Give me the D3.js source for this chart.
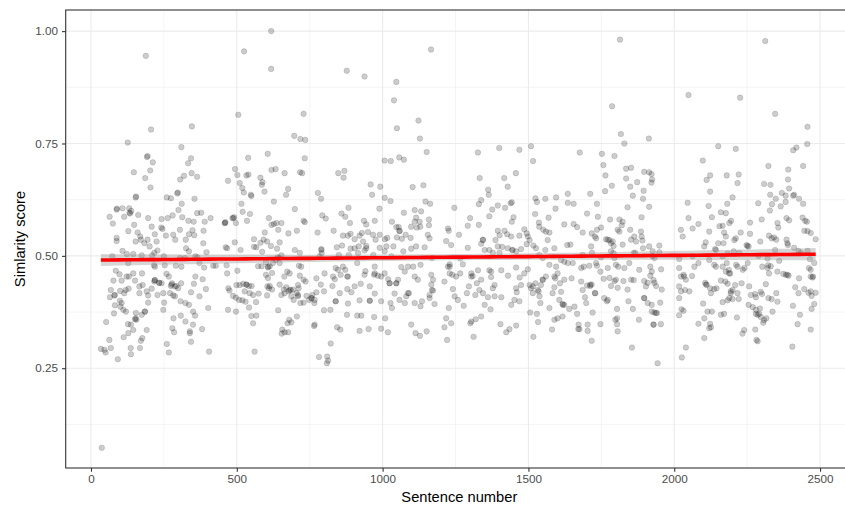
<!DOCTYPE html>
<html>
<head>
<meta charset="utf-8">
<script src="https://cdn.jsdelivr.net/npm/d3@7"></script>
<style>
  body { margin: 0; background: #fff; }
  svg { display: block; font-family: "Liberation Sans", Arial, sans-serif; }
</style>
</head>
<body>
<svg width="845" height="508"></svg>
<script>
// axis ticks
var xTicks = [0, 500, 1000, 1500, 2000, 2500];
var xMinor = [250, 750, 1250, 1750, 2250];
var yTicks = [0.25, 0.50, 0.75, 1.00];
var yMinor = [0.125, 0.375, 0.625, 0.875];

// [sentence number, similarity score], in blocks
var pts0 = [[188,.945],[206,.781],[126,.752],[192,.72],[194,.722],[212,.708],[147,.686],[203,.690],[186,.673],[204,.652],[310,.742],[333,.706],[319,.678],[306,.670],[153,.630],[155,.632],[260,.630],[274,.628],[296,.639],[298,.641],[311,.616],[88,.603],[89,.605],[108,.606],[131,.606],[138,.600],[64,.587],[75,.572],[114,.587],[132,.596],[134,.594],[148,.569],[160,.552],[162,.591],[196,.584],[208,.565],[242,.582],[263,.584],[280,.590],[300,.602],[313,.586],[334,.578],[241,.563],[245,.560],[257,.545],[282,.547],[289,.536],[305,.558],[88,.540],[88,.533],[128,.555],[153,.532],[169,.543],[183,.528],[171,.536],[194,.536],[201,.521],[219,.548],[225,.532],[228,.512],[210,.501],[217,.507],[108,.511],[123,.504],[145,.504],[73,.499],[174,.501],[325,.536],[336,.548],[326,.517],[336,.510],[322,.495],[305,.495],[310,.476],[291,.478],[128,.484],[85,.467],[98,.459],[105,.445],[122,.454],[130,.454],[145,.461],[151,.445],[77,.445],[68,.424],[65,.408],[80,.412],[100,.422],[114,.417],[119,.424],[129,.427],[175,.461],[166,.432],[177,.435],[166,.417],[191,.421],[196,.412],[208,.427],[216,.479],[219,.476],[253,.479],[250,.499],[217,.443],[219,.446],[234,.440],[242,.439],[259,.460],[267,.454],[274,.433],[278,.439],[288,.432],[293,.433],[299,.428],[309,.439],[271,.417],[282,.412],[288,.410],[228,.413],[248,.417],[307,.399],[324,.395],[336,.391],[99,.400],[82,.390],[101,.387],[111,.380],[120,.376],[79,.372],[52,.353],[196,.396],[185,.376],[174,.369],[153,.361],[156,.358],[151,.359],[137,.347],[145,.335],[127,.348],[128,.328],[191,.335],[176,.317],[171,.311],[248,.380],[251,.396],[283,.361],[279,.339],[285,.330],[308,.367],[324,.354],[339,.332],[260,.304],[267,.285],[63,.313],[68,.295],[112,.319],[136,.295],[137,.281],[168,.295],[34,.293],[46,.291],[50,.285],[92,.270],[37,.073]];

var pts1 = [[618,1.000],[525,.955],[618,.916],[505,.814],[729,.816],[697,.767],[718,.760],[735,.758],[346,.788],[343,.717],[345,.684],[364,.676],[355,.627],[606,.727],[539,.718],[494,.693],[502,.680],[510,.662],[519,.651],[524,.641],[533,.679],[540,.681],[548,.636],[550,.633],[470,.667],[581,.674],[588,.664],[586,.658],[595,.643],[619,.691],[633,.693],[664,.684],[676,.649],[669,.636],[717,.686],[724,.684],[627,.621],[699,.604],[516,.616],[520,.598],[545,.593],[535,.578],[459,.573],[461,.575],[485,.584],[491,.586],[497,.573],[364,.595],[378,.596],[390,.576],[410,.584],[386,.556],[352,.576],[348,.557],[354,.546],[610,.584],[619,.569],[627,.571],[636,.573],[653,.573],[642,.558],[596,.552],[592,.536],[677,.550],[706,.556],[729,.578],[733,.575],[699,.513],[716,.507],[493,.530],[462,.519],[467,.517],[513,.513],[559,.537],[567,.519],[559,.520],[581,.529],[587,.509],[604,.532],[617,.522],[638,.516],[647,.530],[653,.501],[640,.497],[385,.528],[396,.508],[358,.499],[365,.497],[372,.484],[388,.474],[419,.478],[428,.478],[465,.479],[467,.461],[502,.467],[573,.477],[585,.477],[600,.486],[607,.474],[613,.477],[600,.458],[607,.451],[621,.462],[624,.484],[633,.491],[647,.484],[645,.495],[673,.465],[681,.461],[663,.454],[713,.478],[721,.476],[716,.456],[729,.447],[736,.443],[383,.448],[358,.454],[353,.438],[343,.419],[372,.410],[394,.426],[471,.428],[475,.423],[499,.435],[510,.435],[522,.438],[533,.436],[527,.421],[542,.433],[551,.433],[544,.417],[556,.413],[487,.411],[497,.407],[508,.402],[519,.401],[530,.398],[575,.416],[566,.397],[605,.432],[610,.428],[613,.433],[604,.412],[621,.425],[647,.436],[653,.413],[661,.425],[670,.430],[678,.421],[685,.424],[687,.410],[693,.425],[695,.402],[705,.417],[710,.410],[718,.395],[729,.396],[739,.411],[748,.402],[756,.406],[759,.413],[766,.395],[710,.435],[712,.428],[542,.385],[550,.366],[556,.350],[567,.367],[470,.380],[497,.376],[402,.384],[350,.376],[357,.367],[350,.347],[339,.328],[381,.337],[343,.309],[405,.287],[561,.287],[642,.379],[680,.358],[674,.350],[687,.352],[706,.365],[765,.344],[656,.336],[664,.330],[676,.330],[654,.327]];

var pts2 = [[877,.912],[938,.899],[1047,.887],[1166,.959],[1039,.846],[1049,.784],[1123,.801],[1128,.761],[1151,.731],[733,.717],[1007,.712],[1028,.711],[1057,.719],[1073,.714],[848,.684],[869,.689],[866,.674],[778,.640],[789,.627],[959,.659],[964,.636],[992,.654],[1007,.629],[1027,.622],[1103,.653],[1140,.657],[1147,.621],[1163,.616],[883,.607],[793,.590],[805,.583],[859,.594],[872,.587],[888,.573],[989,.605],[973,.578],[936,.578],[944,.570],[1073,.596],[1032,.576],[1047,.564],[1058,.556],[1055,.564],[1110,.602],[1132,.599],[1115,.585],[1098,.565],[1110,.576],[1127,.576],[1129,.565],[1117,.563],[1159,.581],[1159,.568],[1155,.547],[1161,.539],[777,.552],[832,.556],[864,.545],[881,.545],[890,.549],[921,.545],[929,.551],[950,.553],[967,.547],[976,.536],[990,.547],[1008,.537],[1016,.540],[990,.518],[1013,.521],[1037,.521],[1049,.541],[1058,.555],[1066,.538],[1079,.547],[1096,.540],[904,.537],[933,.532],[944,.517],[938,.512],[944,.522],[843,.519],[861,.523],[890,.516],[904,.517],[918,.521],[790,.515],[791,.506],[784,.499],[850,.502],[884,.502],[916,.506],[968,.502],[1007,.510],[1030,.499],[1071,.510],[1098,.516],[1115,.521],[1144,.519],[1169,.495],[839,.473],[847,.469],[864,.476],[872,.469],[879,.454],[856,.458],[830,.454],[836,.448],[801,.461],[913,.484],[938,.458],[941,.466],[973,.476],[971,.458],[984,.456],[995,.454],[1007,.461],[1019,.448],[1024,.439],[1047,.439],[1053,.447],[1064,.475],[1076,.465],[1087,.476],[1105,.476],[1110,.454],[1121,.447],[1130,.480],[1167,.458],[1173,.447],[1167,.436],[1173,.423],[1161,.413],[773,.450],[788,.436],[773,.419],[767,.402],[799,.421],[828,.433],[853,.417],[879,.426],[893,.419],[904,.432],[925,.438],[956,.432],[973,.416],[839,.399],[881,.394],[921,.401],[956,.400],[995,.399],[1027,.395],[1041,.416],[1058,.402],[1081,.410],[1090,.417],[1076,.395],[1110,.395],[1135,.399],[1130,.388],[1161,.406],[799,.379],[821,.380],[878,.369],[913,.367],[927,.367],[971,.364],[1009,.361],[1032,.384],[1098,.347],[1178,.393],[844,.341],[855,.336],[921,.333],[952,.337],[995,.338],[1018,.330],[1113,.328],[1128,.322],[1151,.332],[822,.305],[782,.275],[810,.276],[809,.261],[813,.267],[767,.347]];

var pts3 = [[1327,.730],[1400,.740],[1469,.736],[1509,.744],[1516,.711],[1333,.673],[1457,.684],[1417,.673],[1429,.654],[1362,.647],[1364,.636],[1338,.624],[1330,.615],[1246,.607],[1376,.603],[1395,.612],[1420,.607],[1439,.617],[1443,.619],[1524,.628],[1529,.620],[1558,.627],[1595,.630],[1523,.593],[1536,.574],[1569,.585],[1593,.605],[1224,.561],[1227,.556],[1218,.533],[1235,.524],[1262,.547],[1292,.567],[1300,.584],[1330,.569],[1366,.588],[1449,.586],[1443,.576],[1395,.556],[1418,.556],[1401,.546],[1427,.548],[1441,.543],[1387,.535],[1469,.545],[1486,.559],[1494,.550],[1504,.535],[1344,.535],[1338,.527],[1350,.513],[1366,.513],[1378,.507],[1395,.521],[1401,.507],[1410,.520],[1429,.517],[1444,.513],[1458,.510],[1475,.515],[1494,.526],[1517,.523],[1526,.517],[1537,.502],[1549,.495],[1558,.513],[1572,.552],[1566,.535],[1589,.517],[1537,.565],[1551,.558],[1560,.554],[1292,.518],[1266,.494],[1275,.481],[1230,.481],[1224,.476],[1230,.461],[1239,.458],[1252,.454],[1266,.461],[1212,.443],[1241,.426],[1247,.410],[1258,.402],[1278,.389],[1227,.384],[1304,.461],[1309,.455],[1327,.468],[1338,.447],[1323,.439],[1296,.432],[1332,.424],[1344,.417],[1318,.413],[1289,.417],[1378,.428],[1384,.435],[1366,.468],[1372,.453],[1361,.408],[1384,.410],[1407,.408],[1350,.391],[1338,.365],[1319,.359],[1301,.350],[1304,.354],[1370,.381],[1218,.361],[1235,.350],[1212,.341],[1221,.313],[1312,.320],[1404,.348],[1424,.330],[1435,.337],[1458,.345],[1407,.468],[1430,.456],[1458,.474],[1470,.452],[1458,.428],[1460,.419],[1469,.399],[1441,.391],[1452,.402],[1475,.435],[1486,.461],[1498,.470],[1504,.435],[1509,.428],[1515,.417],[1524,.439],[1535,.421],[1543,.435],[1549,.447],[1560,.454],[1538,.410],[1541,.395],[1506,.374],[1529,.371],[1533,.353],[1517,.320],[1572,.384],[1589,.358],[1600,.361],[1617,.365],[1581,.336],[1592,.450],[1600,.461],[1608,.439],[1606,.402],[1617,.393],[1612,.420],[1589,.430],[1583,.417],[1572,.480],[1595,.476],[1612,.491]];

var pts4 = [[1814,.981],[1787,.833],[2049,.858],[1817,.771],[1829,.750],[1913,.761],[1676,.730],[1752,.727],[1795,.722],[1757,.702],[1764,.679],[1835,.694],[1852,.696],[1897,.687],[1914,.686],[1922,.682],[1924,.670],[1922,.663],[1835,.672],[1873,.664],[1849,.654],[1858,.634],[1895,.645],[1893,.627],[1763,.644],[1786,.656],[1635,.638],[1635,.618],[1655,.616],[1712,.638],[1735,.616],[1840,.608],[1914,.609],[1888,.586],[1701,.594],[1738,.587],[1780,.581],[1812,.581],[1823,.576],[1820,.568],[1623,.570],[1655,.571],[1667,.564],[1686,.552],[1644,.525],[1633,.524],[1717,.550],[1732,.539],[1749,.563],[1735,.558],[1728,.543],[1766,.537],[1778,.535],[1789,.532],[1792,.522],[1806,.558],[1812,.554],[1823,.525],[1849,.558],[1852,.536],[1863,.543],[1869,.532],[1886,.554],[1888,.543],[1891,.534],[1893,.517],[1914,.521],[1926,.510],[1949,.523],[1949,.508],[1715,.521],[1718,.507],[1686,.502],[1749,.497],[1783,.510],[1792,.506],[1795,.495],[1861,.506],[1866,.507],[1926,.499],[1932,.495],[1623,.487],[1635,.484],[1652,.484],[1681,.473],[1690,.476],[1709,.478],[1732,.484],[1735,.478],[1747,.465],[1772,.473],[1800,.480],[1808,.476],[1829,.473],[1846,.484],[1880,.469],[1918,.476],[1923,.465],[1955,.470],[1623,.447],[1648,.450],[1681,.443],[1686,.424],[1701,.434],[1712,.433],[1717,.436],[1729,.417],[1758,.449],[1778,.451],[1783,.433],[1795,.444],[1800,.447],[1806,.429],[1826,.444],[1840,.425],[1852,.447],[1861,.446],[1897,.444],[1903,.432],[1909,.440],[1918,.456],[1929,.446],[1932,.440],[1938,.433],[1957,.425],[1623,.391],[1640,.382],[1658,.387],[1667,.371],[1694,.408],[1698,.395],[1720,.374],[1728,.417],[1760,.406],[1769,.399],[1804,.382],[1843,.399],[1858,.382],[1879,.358],[1897,.406],[1909,.395],[1923,.391],[1923,.376],[1932,.374],[1941,.373],[1952,.396],[1672,.347],[1671,.337],[1703,.347],[1703,.333],[1747,.348],[1798,.358],[1804,.348],[1806,.332],[1929,.347],[1954,.348],[1717,.311],[1855,.296],[1943,.261],[2023,.558],[2029,.543],[2046,.618],[2049,.584],[2017,.473],[2023,.454],[2032,.458],[2040,.447],[2017,.432],[2017,.406],[2023,.421],[2037,.424],[2052,.421],[2025,.381],[2032,.378],[2017,.368],[2040,.296],[2026,.274],[2017,.493]];

var pts5 = [[2312,.978],[2226,.852],[2346,.816],[2457,.787],[2456,.749],[2408,.735],[2419,.741],[2151,.744],[2211,.738],[2098,.712],[2323,.700],[2442,.700],[2391,.692],[2390,.670],[2394,.650],[2111,.669],[2123,.679],[2180,.679],[2221,.681],[2217,.662],[2308,.660],[2330,.658],[2329,.636],[2335,.615],[2328,.601],[2123,.643],[2200,.630],[2182,.616],[2160,.597],[2177,.595],[2348,.627],[2369,.640],[2382,.634],[2408,.634],[2428,.627],[2442,.616],[2382,.620],[2365,.610],[2411,.636],[2118,.611],[2129,.586],[2083,.571],[2063,.561],[2155,.566],[2166,.567],[2171,.552],[2177,.543],[2195,.578],[2189,.573],[2169,.528],[2151,.528],[2143,.513],[2120,.554],[2260,.574],[2300,.581],[2288,.617],[2260,.549],[2251,.522],[2228,.552],[2206,.535],[2211,.539],[2295,.532],[2354,.573],[2357,.563],[2385,.584],[2394,.579],[2440,.585],[2449,.578],[2455,.576],[2446,.556],[2457,.555],[2468,.551],[2485,.537],[2325,.545],[2334,.539],[2342,.541],[2350,.536],[2346,.513],[2385,.536],[2388,.528],[2390,.524],[2411,.518],[2426,.511],[2434,.507],[2457,.511],[2465,.493],[2103,.521],[2108,.530],[2140,.515],[2166,.499],[2183,.505],[2204,.510],[2223,.506],[2248,.524],[2255,.521],[2289,.500],[2302,.476],[2322,.479],[2331,.477],[2360,.489],[2320,.494],[2063,.499],[2069,.476],[2083,.484],[2120,.491],[2137,.480],[2143,.476],[2166,.476],[2180,.484],[2187,.469],[2192,.461],[2212,.480],[2217,.476],[2235,.469],[2241,.473],[2252,.484],[2354,.465],[2374,.460],[2383,.458],[2392,.456],[2428,.450],[2462,.473],[2468,.469],[2476,.454],[2480,.484],[2474,.452],[2061,.455],[2106,.440],[2111,.436],[2123,.428],[2126,.417],[2137,.426],[2145,.428],[2160,.445],[2175,.443],[2183,.438],[2194,.421],[2200,.424],[2209,.435],[2217,.417],[2189,.406],[2183,.401],[2166,.397],[2200,.404],[2221,.404],[2231,.439],[2257,.432],[2263,.413],[2278,.415],[2280,.408],[2297,.420],[2301,.415],[2314,.437],[2323,.406],[2334,.404],[2350,.417],[2354,.398],[2415,.430],[2426,.417],[2446,.426],[2460,.418],[2471,.411],[2485,.418],[2099,.394],[2114,.376],[2129,.376],[2160,.369],[2171,.371],[2215,.363],[2255,.391],[2269,.386],[2280,.371],[2286,.369],[2294,.383],[2297,.364],[2308,.357],[2305,.351],[2337,.376],[2316,.361],[2407,.389],[2431,.369],[2471,.382],[2480,.393],[2083,.349],[2103,.361],[2123,.349],[2126,.341],[2120,.339],[2234,.327],[2240,.335],[2278,.336],[2286,.310],[2282,.313],[2423,.348],[2468,.336],[2405,.298],[2103,.317]];

// extra points hidden in the darker overlapping clusters
var ptsDense = [[2177,.465],[2188,.461],[2320,.473],[2325,.461],[2280,.380],[2291,.371],[2388,.458],[2468,.454],[2194,.417],[2109,.436],[2468,.421],[1712,.436],[1772,.536],[1783,.528],[1804,.361],[1675,.337],[1897,.406],[1929,.347],[1937,.373],[2034,.454],[1772,.402],[1344,.536],[1498,.543],[1446,.513],[1372,.465],[1515,.432],[1532,.424],[1549,.447],[1589,.454],[1618,.391],[1304,.454],[1230,.476],[790,.513],[973,.461],[1024,.439],[1087,.417],[1169,.424],[839,.399],[956,.400],[881,.454],[1047,.439],[459,.573],[488,.584],[607,.476],[533,.436],[681,.424],[756,.406],[710,.413],[664,.417],[105,.395],[154,.373],[234,.440],[276,.436],[219,.446],[82,.413],[185,.376]];

var points = pts0.concat(pts1, pts2, pts3, pts4, pts5, ptsDense);

var svg = d3.select("svg"),
  width = +svg.attr("width"),
  height = +svg.attr("height");

// panel box (right side runs off the picture, like the original)
var pLeft = 65.7, pRight = 853, pTop = 10, pBottom = 468;

var x = d3.scaleLinear().domain([-86.7, 2613]).range([pLeft, pRight]);
var y = d3.scaleLinear().domain([0.028, 1.047]).range([pBottom, pTop]);

svg.append("clipPath").attr("id", "panel")
  .append("rect")
  .attr("x", pLeft).attr("y", pTop)
  .attr("width", pRight - pLeft).attr("height", pBottom - pTop);

var grid = svg.append("g");

// minor grid
grid.selectAll(".xminor").data(xMinor).enter().append("line")
  .attr("x1", d => x(d)).attr("x2", d => x(d))
  .attr("y1", pTop).attr("y2", pBottom)
  .attr("stroke", "#ebebeb").attr("stroke-width", 0.55);
grid.selectAll(".yminor").data(yMinor).enter().append("line")
  .attr("x1", pLeft).attr("x2", pRight)
  .attr("y1", d => y(d)).attr("y2", d => y(d))
  .attr("stroke", "#ebebeb").attr("stroke-width", 0.55);

// major grid
grid.selectAll(".xmajor").data(xTicks).enter().append("line")
  .attr("x1", d => x(d)).attr("x2", d => x(d))
  .attr("y1", pTop).attr("y2", pBottom)
  .attr("stroke", "#ebebeb").attr("stroke-width", 1.1);
grid.selectAll(".ymajor").data(yTicks).enter().append("line")
  .attr("x1", pLeft).attr("x2", pRight)
  .attr("y1", d => y(d)).attr("y2", d => y(d))
  .attr("stroke", "#ebebeb").attr("stroke-width", 1.1);

var plot = svg.append("g").attr("clip-path", "url(#panel)");

// the points
plot.selectAll("circle").data(points).enter().append("circle")
  .attr("cx", d => x(d[0]))
  .attr("cy", d => y(d[1]))
  .attr("r", 2.8)
  .attr("fill", "#000").attr("fill-opacity", 0.2)
  .attr("stroke", "#000").attr("stroke-opacity", 0.2).attr("stroke-width", 0.6);

// linear fit with 95% band, like geom_smooth(method = "lm")
var n = points.length;
var mx = d3.mean(points, d => d[0]), my = d3.mean(points, d => d[1]);
var sxx = d3.sum(points, d => (d[0] - mx) * (d[0] - mx));
var sxy = d3.sum(points, d => (d[0] - mx) * (d[1] - my));
var slope = sxy / sxx, icpt = my - slope * mx;
var rss = d3.sum(points, d => Math.pow(d[1] - (icpt + slope * d[0]), 2));
var s = Math.sqrt(rss / (n - 2));
var tq = 1.962;

var xmin = d3.min(points, d => d[0]), xmax = d3.max(points, d => d[0]);
var fit = d3.range(80).map(function (i) {
  var xv = xmin + (xmax - xmin) * i / 79;
  var yv = icpt + slope * xv;
  var se = s * Math.sqrt(1 / n + (xv - mx) * (xv - mx) / sxx);
  return { x: xv, y: yv, lo: yv - tq * se, hi: yv + tq * se };
});

plot.append("path").datum(fit)
  .attr("fill", "#999999").attr("fill-opacity", 0.4)
  .attr("d", d3.area().x(d => x(d.x)).y0(d => y(d.lo)).y1(d => y(d.hi)));

plot.append("path").datum(fit)
  .attr("fill", "none").attr("stroke", "#ff0000").attr("stroke-width", 3.6)
  .attr("d", d3.line().x(d => x(d.x)).y(d => y(d.y)));

// panel border
svg.append("rect")
  .attr("x", pLeft).attr("y", pTop)
  .attr("width", pRight - pLeft).attr("height", pBottom - pTop)
  .attr("fill", "none").attr("stroke", "#333333").attr("stroke-width", 1.1);

// axes
var xAxis = svg.append("g").attr("transform", "translate(0," + pBottom + ")")
  .call(d3.axisBottom(x).tickValues(xTicks).tickSize(3.7).tickPadding(3).tickFormat(d3.format("d")));
var yAxis = svg.append("g").attr("transform", "translate(" + pLeft + ",0)")
  .call(d3.axisLeft(y).tickValues(yTicks).tickSize(3.7).tickPadding(4).tickFormat(d3.format(".2f")));

[xAxis, yAxis].forEach(function (a) {
  a.select(".domain").remove();
  a.selectAll(".tick line").attr("stroke", "#333333").attr("stroke-width", 1.1);
  a.selectAll(".tick text")
    .attr("fill", "#4d4d4d")
    .style("font-size", "11.7px")
    .style("font-family", "'Liberation Sans', Arial, sans-serif");
});

// axis titles
svg.append("text")
  .attr("x", (pLeft + pRight) / 2).attr("y", 502)
  .attr("text-anchor", "middle")
  .style("font-size", "14.7px")
  .text("Sentence number");

svg.append("text")
  .attr("transform", "translate(25," + ((pTop + pBottom) / 2) + ") rotate(-90)")
  .attr("text-anchor", "middle")
  .style("font-size", "14.7px")
  .text("Simlarity score");
</script>
</body>
</html>
